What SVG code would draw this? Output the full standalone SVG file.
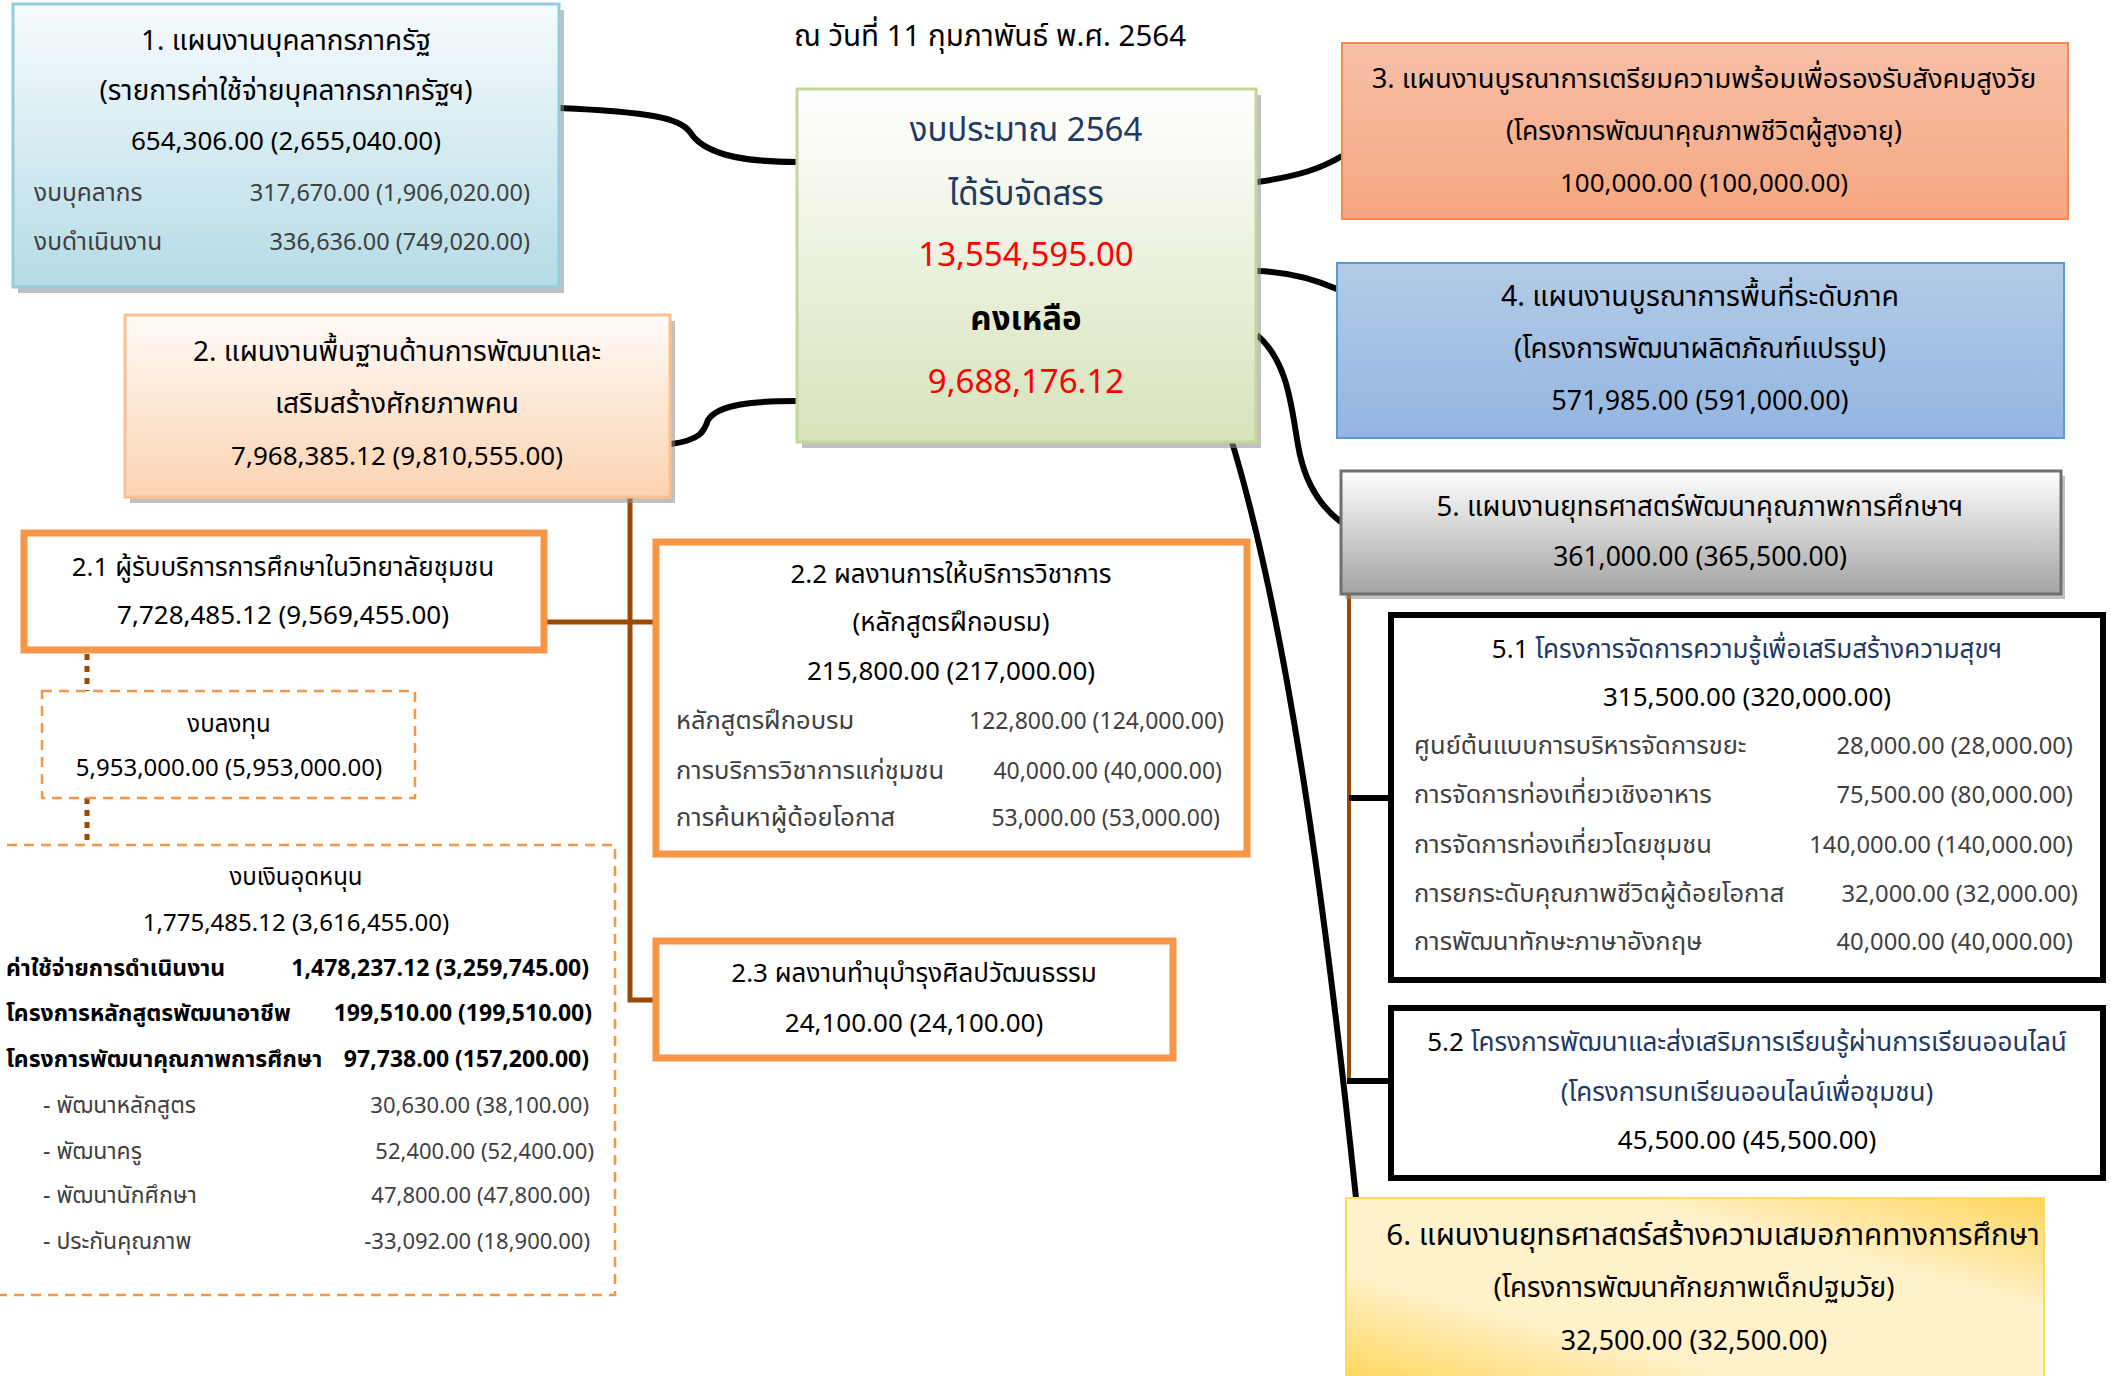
<svg xmlns="http://www.w3.org/2000/svg" width="2111" height="1376" viewBox="0 0 2111 1376">
<defs>
<linearGradient id="gBlue1" x1="0" y1="0" x2="0" y2="1"><stop offset="0" stop-color="#f7fbfd"/><stop offset="1" stop-color="#b4dbe6"/></linearGradient>
<linearGradient id="gPeach" x1="0" y1="0" x2="0" y2="1"><stop offset="0" stop-color="#fffbf7"/><stop offset="1" stop-color="#fbd3b2"/></linearGradient>
<linearGradient id="gGreen" x1="0" y1="0" x2="0" y2="1"><stop offset="0" stop-color="#ffffff"/><stop offset="1" stop-color="#d6e3bb"/></linearGradient>
<linearGradient id="gSalmon" x1="0" y1="0" x2="0" y2="1"><stop offset="0" stop-color="#f7c0a8"/><stop offset="1" stop-color="#f5a680"/></linearGradient>
<linearGradient id="gBlue4" x1="0" y1="0" x2="0" y2="1"><stop offset="0" stop-color="#b3cbe7"/><stop offset="1" stop-color="#93b5e1"/></linearGradient>
<linearGradient id="gGray" x1="0" y1="0" x2="0" y2="1"><stop offset="0" stop-color="#ffffff"/><stop offset="1" stop-color="#a3a3a3"/></linearGradient>
<linearGradient id="gYellow" x1="0" y1="1" x2="1" y2="0"><stop offset="0" stop-color="#ffd55a"/><stop offset="0.3" stop-color="#fff1c9"/><stop offset="0.7" stop-color="#fff1c9"/><stop offset="1" stop-color="#ffd55a"/></linearGradient>
<style>
text{font-family:"Noto Sans Thai","Noto Sans","DejaVu Sans",sans-serif;fill:#000}
.h{font-size:26px}
.c{text-anchor:middle}
.e{text-anchor:end}
.r{font-size:23px;fill:#3f3f3f}
.rl{font-size:25.5px;fill:#3f3f3f}
.big{font-size:33px}
.navy{fill:#1f3864}
.red{fill:#ff0000}
.b{font-weight:bold}
.shadow{fill:#8c8c8c;opacity:.55}
.cb{fill:none;stroke:#000;stroke-width:6;stroke-linecap:butt}
.br{fill:none;stroke:#984807;stroke-width:5}
.ob{fill:#fff;stroke:#f79646;stroke-width:7}
.kb{fill:#fff;stroke:#000;stroke-width:6}
.dash{fill:none;stroke:#f79646;stroke-width:2.5;stroke-dasharray:10 7}
</style>
</defs>
<rect width="2111" height="1376" fill="#fff"/>

<text class="h c" x="990" y="46" style="font-size:29.5px">ณ วันที่ 11 กุมภาพันธ์ พ.ศ. 2564</text>

<g id="connectors">
<path class="cb" d="M559,108 C650,112 680,118 690,132 C702,152 735,162 797,162"/>
<path class="cb" d="M671,444 C700,440 704,432 708,420 C718,404 755,401 797,401"/>
<path class="cb" d="M1257,182 C1300,176 1322,168 1342,156"/>
<path class="cb" d="M1257,271 C1290,272 1316,280 1337,289"/>
<path class="cb" d="M1257,335 C1292,365 1292,420 1300,455 C1308,490 1325,510 1341,522"/>
<path class="cb" d="M1232,442 C1292,640 1330,950 1356,1198"/>
<path class="br" d="M630,497 V1000 H653"/>
<path class="br" d="M545,622 H653"/>
<path class="br" d="M87,654 V691 M87,798 V845" style="stroke-dasharray:6 6"/>
<path class="br" d="M1349,594 V1081" style="stroke-width:4"/>
<path class="cb" d="M1349,798 H1391 M1347,1081 H1391"/>
</g>

<g id="n1">
<rect class="shadow" x="18" y="10" width="546" height="283"/>
<rect x="13" y="4" width="546" height="283" fill="url(#gBlue1)" stroke="#93cddd" stroke-width="3"/>
<text class="h c" x="286" y="50" style="font-size:27.8px">1. แผนงานบุคลากรภาครัฐ</text>
<text class="h c" x="286" y="100" style="font-size:27.8px">(รายการค่าใช้จ่ายบุคลากรภาครัฐฯ)</text>
<text class="h c" x="286" y="150">654,306.00 (2,655,040.00)</text>
<text class="r" x="34" y="201" style="font-size:24.5px">งบบุคลากร</text>
<text class="r e" x="530" y="201" style="font-size:23.5px">317,670.00 (1,906,020.00)</text>
<text class="r" x="34" y="250" style="font-size:24.5px">งบดำเนินงาน</text>
<text class="r e" x="530" y="250" style="font-size:23.5px">336,636.00 (749,020.00)</text>
</g>

<g id="center">
<rect class="shadow" x="802" y="95" width="459" height="353"/>
<rect x="797" y="89" width="459" height="353" fill="url(#gGreen)" stroke="#c3d69b" stroke-width="3"/>
<text class="big c navy" x="1026" y="141">งบประมาณ 2564</text>
<text class="big c navy" x="1026" y="205">ได้รับจัดสรร</text>
<text class="big c red" x="1026" y="266">13,554,595.00</text>
<text class="big c b" x="1026" y="330">คงเหลือ</text>
<text class="big c red" x="1026" y="393">9,688,176.12</text>
</g>

<g id="n3">
<rect x="1342" y="43" width="726" height="176" fill="url(#gSalmon)" stroke="#f28c4e" stroke-width="2"/>
<text class="h c" x="1704" y="88" style="font-size:27.4px">3. แผนงานบูรณาการเตรียมความพร้อมเพื่อรองรับสังคมสูงวัย</text>
<text class="h c" x="1704" y="140" style="font-size:26.6px">(โครงการพัฒนาคุณภาพชีวิตผู้สูงอายุ)</text>
<text class="h c" x="1704" y="192">100,000.00 (100,000.00)</text>
</g>

<g id="n4">
<rect x="1337" y="263" width="727" height="175" fill="url(#gBlue4)" stroke="#5b9bd5" stroke-width="2"/>
<text class="h c" x="1700" y="306" style="font-size:28.5px">4. แผนงานบูรณาการพื้นที่ระดับภาค</text>
<text class="h c" x="1700" y="358" style="font-size:27.8px">(โครงการพัฒนาผลิตภัณฑ์แปรรูป)</text>
<text class="h c" x="1700" y="410" style="font-size:26.8px">571,985.00 (591,000.00)</text>
</g>

<g id="n5">
<rect class="shadow" x="1345" y="476" width="720" height="123"/>
<rect x="1341" y="471" width="720" height="123" fill="url(#gGray)" stroke="#6f6f6f" stroke-width="3"/>
<text class="h c" x="1700" y="516" style="font-size:27.6px">5. แผนงานยุทธศาสตร์พัฒนาคุณภาพการศึกษาฯ</text>
<text class="h c" x="1700" y="566" style="font-size:26.5px">361,000.00 (365,500.00)</text>
</g>

<g id="n51">
<rect class="kb" x="1391" y="615" width="712" height="365"/>
<text class="h c" x="1747" y="658"><tspan>5.1 </tspan><tspan class="navy">โครงการจัดการความรู้เพื่อเสริมสร้างความสุขฯ</tspan></text>
<text class="h c" x="1747" y="706">315,500.00 (320,000.00)</text>
<text class="rl" x="1414" y="754">ศูนย์ต้นแบบการบริหารจัดการขยะ</text>
<text class="r e" x="2073" y="754" style="font-size:23.8px">28,000.00 (28,000.00)</text>
<text class="rl" x="1414" y="803">การจัดการท่องเที่ยวเชิงอาหาร</text>
<text class="r e" x="2073" y="803" style="font-size:23.8px">75,500.00 (80,000.00)</text>
<text class="rl" x="1414" y="853">การจัดการท่องเที่ยวโดยชุมชน</text>
<text class="r e" x="2073" y="853" style="font-size:23.8px">140,000.00 (140,000.00)</text>
<text class="rl" x="1414" y="902">การยกระดับคุณภาพชีวิตผู้ด้อยโอกาส</text>
<text class="r e" x="2078" y="902" style="font-size:23.8px">32,000.00 (32,000.00)</text>
<text class="rl" x="1414" y="950">การพัฒนาทักษะภาษาอังกฤษ</text>
<text class="r e" x="2073" y="950" style="font-size:23.8px">40,000.00 (40,000.00)</text>
</g>

<g id="n52">
<rect class="kb" x="1391" y="1008" width="712" height="170"/>
<text class="h c" x="1747" y="1051"><tspan>5.2 </tspan><tspan class="navy">โครงการพัฒนาและส่งเสริมการเรียนรู้ผ่านการเรียนออนไลน์</tspan></text>
<text class="h c navy" x="1747" y="1101">(โครงการบทเรียนออนไลน์เพื่อชุมชน)</text>
<text class="h c" x="1747" y="1149">45,500.00 (45,500.00)</text>
</g>

<g id="n6">
<rect x="1346" y="1198" width="698" height="185" fill="url(#gYellow)" stroke="#ffd966" stroke-width="2"/>
<text class="h c" x="1713" y="1245" style="font-size:29.6px">6. แผนงานยุทธศาสตร์สร้างความเสมอภาคทางการศึกษา</text>
<text class="h c" x="1694" y="1297" style="font-size:27.6px">(โครงการพัฒนาศักยภาพเด็กปฐมวัย)</text>
<text class="h c" x="1694" y="1350" style="font-size:26.8px">32,500.00 (32,500.00)</text>
</g>

<g id="n2">
<rect class="shadow" x="130" y="321" width="545" height="182"/>
<rect x="125" y="315" width="545" height="182" fill="url(#gPeach)" stroke="#fac090" stroke-width="3"/>
<text class="h c" x="397" y="361" style="font-size:28px">2. แผนงานพื้นฐานด้านการพัฒนาและ</text>
<text class="h c" x="397" y="413" style="font-size:28px">เสริมสร้างศักยภาพคน</text>
<text class="h c" x="397" y="465">7,968,385.12 (9,810,555.00)</text>
</g>

<g id="n21">
<rect class="ob" x="24" y="533" width="520" height="117"/>
<text class="h c" x="283" y="576">2.1 ผู้รับบริการการศึกษาในวิทยาลัยชุมชน</text>
<text class="h c" x="283" y="624">7,728,485.12 (9,569,455.00)</text>
</g>

<g id="n22">
<rect class="ob" x="656" y="542" width="591" height="312"/>
<text class="h c" x="951" y="583">2.2 ผลงานการให้บริการวิชาการ</text>
<text class="h c" x="951" y="631">(หลักสูตรฝึกอบรม)</text>
<text class="h c" x="951" y="680">215,800.00 (217,000.00)</text>
<text class="rl" x="676" y="729">หลักสูตรฝึกอบรม</text>
<text class="r e" x="1224" y="729">122,800.00 (124,000.00)</text>
<text class="rl" x="676" y="779">การบริการวิชาการแก่ชุมชน</text>
<text class="r e" x="1222" y="779">40,000.00 (40,000.00)</text>
<text class="rl" x="676" y="826">การค้นหาผู้ด้อยโอกาส</text>
<text class="r e" x="1220" y="826">53,000.00 (53,000.00)</text>
</g>

<g id="n23">
<rect class="ob" x="656" y="941" width="517" height="117"/>
<text class="h c" x="914" y="982">2.3 ผลงานทำนุบำรุงศิลปวัฒนธรรม</text>
<text class="h c" x="914" y="1032">24,100.00 (24,100.00)</text>
</g>

<g id="nInvest">
<rect class="dash" x="42" y="691" width="373" height="107"/>
<text class="h c" x="229" y="732" style="font-size:24px">งบลงทุน</text>
<text class="h c" x="229" y="776" style="font-size:24px">5,953,000.00 (5,953,000.00)</text>
</g>

<g id="nSubsidy">
<rect class="dash" x="-10" y="845" width="625" height="450"/>
<text class="h c" x="296" y="885" style="font-size:24px">งบเงินอุดหนุน</text>
<text class="h c" x="296" y="931" style="font-size:24px">1,775,485.12 (3,616,455.00)</text>
<text class="b" x="6" y="976" style="font-size:23px">ค่าใช้จ่ายการดำเนินงาน</text>
<text class="b e" x="589" y="976" style="font-size:23px">1,478,237.12 (3,259,745.00)</text>
<text class="b" x="6" y="1021" style="font-size:23px">โครงการหลักสูตรพัฒนาอาชีพ</text>
<text class="b e" x="592" y="1021" style="font-size:23px">199,510.00 (199,510.00)</text>
<text class="b" x="6" y="1067" style="font-size:23px">โครงการพัฒนาคุณภาพการศึกษา</text>
<text class="b e" x="589" y="1067" style="font-size:23px">97,738.00 (157,200.00)</text>
<text class="r" x="43" y="1113">- พัฒนาหลักสูตร</text>
<text class="r e" x="589" y="1113" style="font-size:22px">30,630.00 (38,100.00)</text>
<text class="r" x="43" y="1159">- พัฒนาครู</text>
<text class="r e" x="594" y="1159" style="font-size:22px">52,400.00 (52,400.00)</text>
<text class="r" x="43" y="1203">- พัฒนานักศึกษา</text>
<text class="r e" x="590" y="1203" style="font-size:22px">47,800.00 (47,800.00)</text>
<text class="r" x="43" y="1249">- ประกันคุณภาพ</text>
<text class="r e" x="590" y="1249" style="font-size:22px">-33,092.00 (18,900.00)</text>
</g>
</svg>
